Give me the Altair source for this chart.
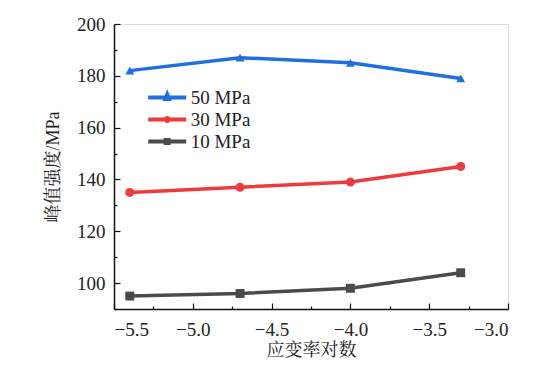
import altair as alt
import pandas as pd

x_vals = [-5.4, -4.7, -4.0, -3.3]
series_names = ["50 MPa", "30 MPa", "10 MPa"]
s50 = [182, 187, 185, 179]
s30 = [135, 137, 139, 145]
s10 = [95, 96, 98, 104]
colors = ["#1f6fe0", "#ee3a3c", "#4b4b4b"]
shapes = ["triangle-up", "circle", "square"]
# legend glyphs: a line segment with the series marker in its middle
legend_glyphs = [
    "M-3.8,0H3.8M-0.35,0.3L0,-0.6L0.35,0.3Z",
    "M-3.8,0H3.8M0.3,0A0.3,0.3 0 1,1 -0.3,0A0.3,0.3 0 1,1 0.3,0Z",
    "M-3.8,0H3.8M-0.3,-0.3H0.3V0.3H-0.3Z",
]

x_ticks = [-5.5, -5.25, -5.0, -4.75, -4.5, -4.25, -4.0, -3.75, -3.5, -3.25, -3.0]
y_ticks = [90, 100, 110, 120, 130, 140, 150, 160, 170, 180, 190, 200]

rows = []
for name, vals in zip(series_names, [s50, s30, s10]):
    for xv, yv in zip(x_vals, vals):
        rows.append({"x": xv, "y": yv, "series": name})
df = pd.DataFrame(rows)

LAT = "Liberation Serif"
TITLE_FONT = "Liberation Serif, Noto Serif CJK SC, Noto Sans CJK SC"

x_axis = alt.Axis(
    values=x_ticks,
    labelExpr="(datum.value * 2) % 1 == 0 ? format(datum.value, '.1f') : ''",
    tickSize={"condition": {"test": "(datum.value * 2) % 1 != 0", "value": -3}, "value": -6},
    grid=False,
    title="应变率对数",
    labelFont=LAT, labelFontSize=19, labelColor="#222",
    labelPadding=17,
    titleFont=TITLE_FONT, titleFontSize=18, titleFontWeight="normal", titleColor="#222",
    titlePadding=2,
    domainColor="#111", domainWidth=1.5, tickColor="#111", tickWidth=1.2,
)
y_axis = alt.Axis(
    values=y_ticks,
    labelExpr="datum.value % 20 == 0 ? format(datum.value, 'd') : ''",
    tickSize={"condition": {"test": "datum.value % 20 != 0", "value": -3}, "value": -6},
    grid=False,
    title="峰值强度/MPa",
    labelFont=LAT, labelFontSize=19, labelColor="#222",
    labelPadding=15,
    titleFont=TITLE_FONT, titleFontSize=18, titleFontWeight="normal", titleColor="#222",
    titlePadding=14,
    domainColor="#111", domainWidth=1.5, tickColor="#111", tickWidth=1.2,
)

xenc = alt.X("x:Q", scale=alt.Scale(domain=[-5.5, -3.0], nice=False, zero=False), axis=x_axis)
yenc = alt.Y("y:Q", scale=alt.Scale(domain=[90, 200], nice=False, zero=False), axis=y_axis)

color_scale = alt.Scale(domain=series_names, range=colors)

lines = alt.Chart(df).mark_line(strokeWidth=3.5).encode(
    x=xenc, y=yenc,
    color=alt.Color("series:N", scale=color_scale, sort=series_names, legend=None),
)
points = alt.Chart(df).mark_point(filled=True, opacity=1, size=80).encode(
    x=xenc, y=yenc,
    color=alt.Color("series:N", scale=color_scale, sort=series_names, legend=None),
    shape=alt.Shape("series:N", scale=alt.Scale(domain=series_names, range=shapes),
                    sort=series_names, legend=None),
)

leg = alt.Legend(
    title=None, orient="none", legendX=43.7, legendY=64,
    symbolSize=100, symbolStrokeWidth=4,
    labelFont=LAT, labelFontSize=19, labelColor="#222", labelOffset=14,
    rowPadding=2, padding=0,
)
legend_layer = alt.Chart(df).transform_filter("false").mark_point(
    filled=True, opacity=1, strokeWidth=4
).encode(
    x=xenc, y=yenc,
    color=alt.Color("series:N", scale=color_scale, sort=series_names, legend=leg),
    stroke=alt.Stroke("series:N", scale=color_scale, sort=series_names, legend=leg),
    shape=alt.Shape("series:N", scale=alt.Scale(domain=series_names, range=legend_glyphs),
                    sort=series_names, legend=leg),
)

chart = alt.layer(lines, points, legend_layer).resolve_scale(
    color="independent", shape="independent", stroke="independent"
).properties(
    width=394, height=285,
    autosize=alt.AutoSizeParams(type="none"),
    padding={"left": 106, "top": 16, "right": 40, "bottom": 52},
).configure_view(stroke=None).configure(background="white")

chart.save("out.html", embed_options={"renderer": "svg", "actions": False})
